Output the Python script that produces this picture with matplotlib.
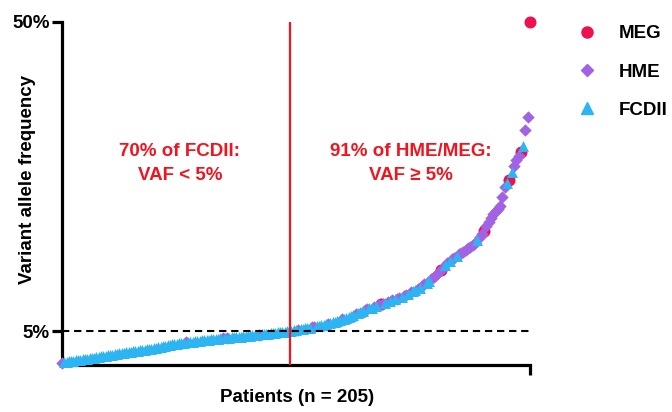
import numpy as np
import matplotlib
matplotlib.use("Agg")
import matplotlib.pyplot as plt
from matplotlib.lines import Line2D

plt.rcParams['font.family'] = ['Liberation Sans', 'DejaVu Sans']
plt.rcParams['font.weight'] = 'bold'

# VAF (%) per patient, sorted ascending
vaf = [
    0.35, 0.45, 0.52, 0.58, 0.64, 0.70, 0.75, 0.80, 0.84, 0.88,
    0.93, 0.98, 1.03, 1.08, 1.13, 1.18, 1.24, 1.30, 1.36, 1.42,
    1.47, 1.52, 1.58, 1.64, 1.70, 1.75, 1.80, 1.85, 1.90, 1.95,
    2.00, 2.05, 2.10, 2.15, 2.20, 2.25, 2.30, 2.35, 2.40, 2.45,
    2.50, 2.56, 2.62, 2.68, 2.75, 2.82, 2.90, 2.98, 3.05, 3.12,
    3.18, 3.23, 3.27, 3.31, 3.35, 3.39, 3.43, 3.47, 3.51, 3.55,
    3.59, 3.63, 3.67, 3.71, 3.75, 3.79, 3.83, 3.86, 3.89, 3.92,
    3.95, 3.98, 4.01, 4.04, 4.07, 4.10, 4.13, 4.16, 4.19, 4.22,
    4.25, 4.28, 4.31, 4.35, 4.39, 4.43, 4.47, 4.51, 4.55, 4.59,
    4.63, 4.67, 4.71, 4.75, 4.79, 4.83, 4.87, 4.91, 4.95, 4.99,
    5.03, 5.08, 5.14, 5.20, 5.26, 5.32, 5.38, 5.44, 5.50, 5.56,
    5.62, 5.68, 5.75, 5.82, 5.90, 5.98, 6.06, 6.14, 6.24, 6.34,
    6.45, 6.56, 6.68, 6.80, 6.93, 7.06, 7.20, 7.34, 7.48, 7.62,
    7.76, 7.90, 8.04, 8.16, 8.28, 8.40, 8.52, 8.64, 8.76, 8.88,
    9.00, 9.12, 9.24, 9.36, 9.48, 9.60, 9.72, 9.84, 9.98, 10.12,
    10.28, 10.44, 10.60, 10.76, 10.92, 11.10, 11.30, 11.55, 11.80, 12.05,
    12.30, 12.55, 12.80, 13.10, 13.45, 13.80, 14.15, 14.55, 14.90, 15.15,
    15.40, 15.65, 15.90, 16.15, 16.35, 16.55, 16.80, 17.05, 17.25, 17.50,
    17.80, 18.20, 18.60, 19.10, 19.60, 20.20, 20.90, 21.50, 22.00, 22.40,
    22.80, 23.20, 24.50, 25.90, 26.50, 27.00, 28.10, 29.00, 29.90, 30.40,
    31.00, 31.90, 34.20, 36.10, 50.00,
]

# group of each patient (same order): M = MEG, H = HME, F = FCDII
groups = (
    "HFFFFFFFFF" "FFFFFFFFFF" "FFFFFFFFFF" "FFFFFFFFFF" "FFFFFFFFFF"
    "FFFFHFFFFF" "FFFFFFFFFF" "HFHFFFFFFF" "FFFFFFHFFF" "FFFFFFFFFF"
    "FFFHFFFFFH" "HFFFFFHFFF" "FFHFFFFFHF" "FFHHFFHFHM" "HFHFHFHHFH"
    "HFHFFHFHHF" "FHHHHMHFHF" "HHFHHHHHHH" "HFHHMHHHHH" "HHHHFMFHHH"
    "MFHHM"
)

names = {'M': 'MEG', 'H': 'HME', 'F': 'FCDII'}
colors = {'M': '#EC1250', 'H': '#A163E3', 'F': '#2CB5F2'}
markers = {'M': 'o', 'H': 'D', 'F': '^'}
sizes = {'M': 75, 'H': 40, 'F': 62}

vaf = np.array(vaf)
g = np.array(list(groups))
patient = np.arange(1, len(vaf) + 1)

fig = plt.figure(figsize=(6.72, 4.12), dpi=100)
ax = fig.add_axes([0.0923, 0.1131, 0.6964, 0.8347])

for k in ['M', 'H', 'F']:
    sel = g == k
    ax.scatter(patient[sel], vaf[sel], s=sizes[k], marker=markers[k],
               color=colors[k], linewidths=0, clip_on=False, zorder=3)

red = '#F0141E'
ax.axhline(5, color='black', lw=1.5, ls=(0, (3.5, 2.3)), zorder=4)
ax.axvline(100.5, color=red, lw=1.6, zorder=4)

ax.set_xlim(1, 205)
ax.set_ylim(0, 50)
ax.set_yticks([5, 50])
ax.set_yticklabels(['5%', '50%'])
ax.set_xticks([205])
ax.set_xticklabels([''])

for s in ['top', 'right']:
    ax.spines[s].set_visible(False)
for s in ['left', 'bottom']:
    ax.spines[s].set_linewidth(2.3)
ax.tick_params(axis='both', width=2.3, length=7, labelsize=13.5, pad=2)

ax.text(0.252, 0.588, '70% of FCDII:\nVAF < 5%', transform=ax.transAxes,
        ha='center', va='center', color=red, fontsize=13.5, linespacing=1.55)
ax.text(0.746, 0.588, '91% of HME/MEG:\nVAF \u2265 5%', transform=ax.transAxes,
        ha='center', va='center', color=red, fontsize=13.5, linespacing=1.55)

fig.text(27 / 672, 1 - 180 / 412, 'Variant allele frequency', rotation=90,
         ha='center', va='center', fontsize=13.5)
fig.text(297 / 672, 1 - 397 / 412, 'Patients (n = 205)',
         ha='center', va='center', fontsize=13.5)

handles = [Line2D([], [], ls='none', marker=markers[k], color=colors[k],
                  markersize={'M': 8, 'H': 6, 'F': 8}[k]) for k in ['M', 'H', 'F']]
fig.legend(handles, [names[k] for k in ['M', 'H', 'F']], loc='upper left',
           bbox_to_anchor=(561 / 672, 1 - 8.5 / 412), frameon=False,
           handlelength=1.0, handletextpad=1.2, labelspacing=1.12,
           fontsize=13.5)

fig.savefig('out.png', dpi=100)
